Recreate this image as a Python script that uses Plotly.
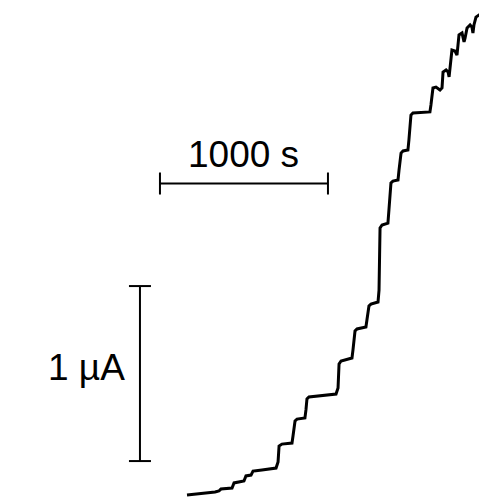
import plotly.graph_objects as go

# Amperometric trace: time (s) and current (µA)
time_s = [0, 77, 95, 167, 190, 202, 268, 280, 339, 351, 381, 393, 446, 530, 542, 548, 565,
          625, 631, 643, 655, 702, 708, 714, 726, 792, 887, 899, 905, 917, 982, 988, 1000,
          1012, 1065, 1071, 1083, 1095, 1137, 1143, 1149, 1161, 1196, 1202, 1214, 1226,
          1256, 1262, 1274, 1286, 1315, 1321, 1333, 1345, 1446, 1452, 1464, 1482, 1506,
          1518, 1524, 1542, 1554, 1560, 1571, 1577, 1595, 1607, 1613, 1619, 1637, 1649,
          1655, 1667, 1685, 1696, 1702, 1708, 1720, 1738, 1756, 1768, 1786]
current_uA = [0, 0.006, 0.011, 0.017, 0.023, 0.034, 0.040, 0.069, 0.080, 0.109, 0.114, 0.137,
              0.143, 0.154, 0.189, 0.280, 0.291, 0.297, 0.337, 0.423, 0.434, 0.440, 0.486,
              0.549, 0.560, 0.566, 0.577, 0.611, 0.749, 0.766, 0.783, 0.829, 0.937, 0.949,
              0.960, 1.000, 1.080, 1.091, 1.103, 1.171, 1.526, 1.543, 1.554, 1.629, 1.783,
              1.794, 1.800, 1.857, 1.954, 1.966, 1.971, 2.029, 2.171, 2.183, 2.189, 2.229,
              2.326, 2.331, 2.314, 2.326, 2.417, 2.429, 2.417, 2.389, 2.474, 2.543, 2.537,
              2.514, 2.571, 2.629, 2.640, 2.589, 2.611, 2.669, 2.686, 2.674, 2.640, 2.686,
              2.731, 2.743, 2.731, 2.754, 2.760]

# Scale bars (data units)
time_bar_start = -161
time_bar_length = 1000      # s
time_bar_level = 1.78       # µA
current_bar_pos = -280      # s
current_bar_start = 0.194
current_bar_length = 1.0    # µA
time_label = "1000 s"
current_label = "1 µA"

fig = go.Figure()
fig.add_trace(go.Scatter(x=time_s, y=current_uA, mode="lines",
                         line=dict(color="black", width=3), hoverinfo="skip"))

# horizontal scale bar
t0, t1 = time_bar_start, time_bar_start + time_bar_length
fig.add_shape(type="line", x0=t0, x1=t1, y0=time_bar_level, y1=time_bar_level,
              line=dict(color="black", width=2))
for tx in (t0, t1):
    fig.add_shape(type="line", xref="x", yref="y", ysizemode="pixel",
                  x0=tx, x1=tx, yanchor=time_bar_level, y0=-11, y1=11,
                  line=dict(color="black", width=2))

# vertical scale bar
c0, c1 = current_bar_start, current_bar_start + current_bar_length
fig.add_shape(type="line", x0=current_bar_pos, x1=current_bar_pos, y0=c0, y1=c1,
              line=dict(color="black", width=2))
for cy in (c0, c1):
    fig.add_shape(type="line", xref="x", yref="y", xsizemode="pixel", xanchor=current_bar_pos,
                  x0=-11, x1=11, y0=cy, y1=cy,
                  line=dict(color="black", width=2))

font = dict(family="Liberation Sans, Arial, sans-serif", size=37, color="black")
fig.add_annotation(x=(t0 + t1) / 2, y=1.946, text=time_label, showarrow=False,
                   xanchor="center", yanchor="middle", font=font)
fig.add_annotation(x=-600, y=0.726, text=current_label, showarrow=False,
                   xanchor="center", yanchor="middle", font=font)

fig.update_layout(
    width=487, height=497,
    margin=dict(l=0, r=0, t=0, b=0),
    paper_bgcolor="white", plot_bgcolor="white",
    showlegend=False,
    xaxis=dict(range=[-1065.5, 1833.3], visible=False, fixedrange=True),
    yaxis=dict(range=[-0.0571, 2.7829], visible=False, fixedrange=True),
)
fig.write_html("out.html", config={"displayModeBar": False})
